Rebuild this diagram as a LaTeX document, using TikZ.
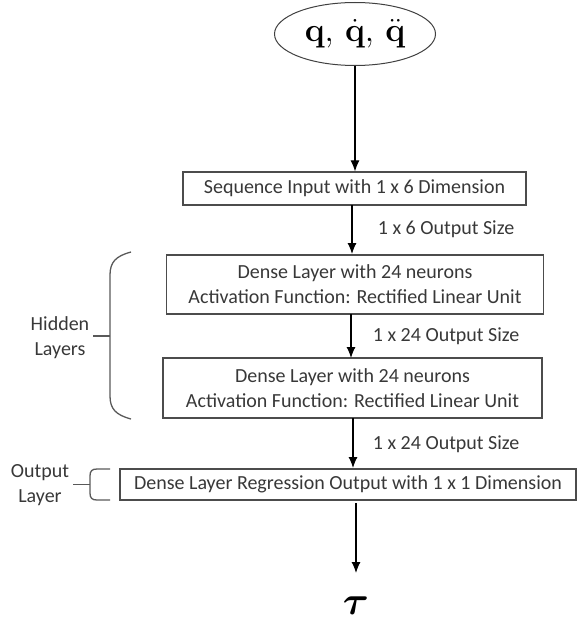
\documentclass[tikz,border=0pt]{standalone}
\usepackage{amsmath}
\usepackage{bm}
\usepackage[no-math]{fontspec}
\setmainfont{Carlito}
\usetikzlibrary{arrows.meta,shapes.geometric,positioning}

\begin{document}
\begin{tikzpicture}[x=1pt,y=-1pt,
	font=\fontsize{20}{25}\selectfont,text=black!78,
	layer/.style={draw=black!70,line width=1.2pt,inner sep=0pt,align=center},
	flow/.style={-{Latex[length=11pt,width=9pt]},line width=1.1pt},
	brk/.style={draw=black!65,line width=1.3pt}]
\useasboundingbox (0,0) rectangle (582,626);
\node[draw=black!75,line width=1pt,ellipse,minimum width=161,minimum height=63,inner sep=0pt,text=black]
	(inp) at (355,34) {\scalebox{1.35}{\Huge$\mathbf{q},\,\dot{\mathbf{q}},\,\ddot{\mathbf{q}}$}};
\node[layer,minimum width=343,minimum height=33] (seq) at (354.5,188.5)
	{Sequence Input with 1 x 6 Dimension};
\node[layer,minimum width=377,minimum height=59] (den1) at (355,284.5)
	{Dense Layer with 24 neurons\\Activation Function: Rectified Linear Unit};
\node[layer,minimum width=379,minimum height=60] (den2) at (352.5,388)
	{Dense Layer with 24 neurons\\Activation Function: Rectified Linear Unit};
\node[layer,minimum width=456,minimum height=31] (reg) at (348,484.5)
	{Dense Layer Regression Output with 1 x 1 Dimension};
\node[text=black] (out) at (356,606) {\scalebox{1.6}{\Huge$\bm{\tau}$}};
\coordinate (tip) at (356,573);

\draw[flow] (inp.south) -- (inp.south |- seq.north);
\draw[flow] (352,205) -- (352,254) node[midway,anchor=west,xshift=22pt] (s1) {1 x 6 Output Size};
\draw[flow] (351,314) -- (351,358) node[midway,anchor=west,xshift=18pt] (s2) {1 x 24 Output Size};
\draw[flow] (353,418) -- (353,468) node[pos=0.5,anchor=west,xshift=16pt,yshift=-1pt] (s3) {1 x 24 Output Size};
\draw[flow] (356,503) -- (tip);

\draw[brk] (131,252) .. controls (116,256) and (110,262) .. (110,275)
	-- (110,396) .. controls (110,409) and (116,415) .. (131,419);
\draw[brk] (110,336) -- (93,336);
\node[align=center,inner sep=0pt] (hid) at (60,338) {Hidden\\Layers};
\draw[brk] (110,469) -- (97,469) .. controls (92,469) and (90,471) .. (90,476)
	-- (90,493) .. controls (90,498) and (92,500) .. (97,500) -- (110,500);
\draw[brk] (90,484.5) -- (73,484.5);
\node[align=center,inner sep=0pt] (olay) at (40,485) {Output\\Layer};
\end{tikzpicture}
\end{document}
